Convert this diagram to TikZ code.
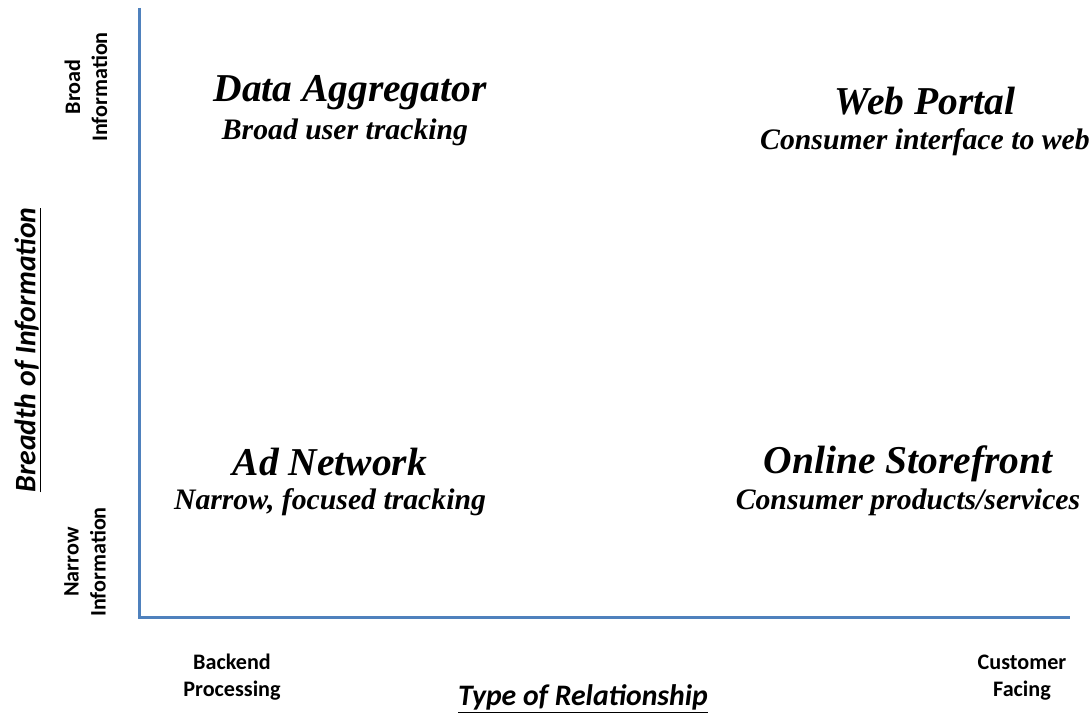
\documentclass[tikz,border=0pt]{standalone}
\usepackage{fontspec}
\setmainfont{Liberation Serif}
\newfontfamily\calibri{Carlito}
\usepackage{tikz}
\definecolor{axisblue}{RGB}{79,129,189}

\begin{document}
\begin{tikzpicture}[x=0.75pt,y=-0.75pt]
\tikzstyle{every node}+=[inner sep=0pt]
\tikzstyle{quadtitle}=[font=\fontsize{29.6}{32}\selectfont\bfseries\itshape]
\tikzstyle{quadnote}=[font=\fontsize{22.3}{26}\selectfont\bfseries\itshape]
\tikzstyle{endlabel}=[font=\calibri\fontsize{16.6}{20.3}\selectfont\bfseries, align=center]
\tikzstyle{axistitle}=[font=\calibri\fontsize{22.3}{26}\selectfont\bfseries\itshape]
\useasboundingbox (0,0) rectangle (1089,717);
% axes
\coordinate (top) at (139,8);
\coordinate (origin) at (139,617);
\coordinate (right) at (1070,617);
\draw [axisblue, line width=2.25pt] (top) -- (origin) -- (right);
% quadrants
\node [quadtitle] (aggr) at (350,93) {Data Aggregator};
\node [quadnote] (aggrnote) at (345,132) {Broad user tracking};
\node [quadtitle] (portal) at (925,101) {Web Portal};
\node [quadnote] (portalnote) at (925,142) {Consumer interface to web};
\node [quadtitle] (adnet) at (330,462) {Ad Network};
\node [quadnote] (adnetnote) at (330,502) {Narrow, focused tracking};
\node [quadtitle] (store) at (908,464) {Online Storefront};
\node [quadnote] (storenote) at (908,502) {Consumer products/services};
% axis ends
\node [endlabel, rotate=90] (broad) at (86,87) {Broad\\Information};
\node [endlabel, rotate=90] (narrow) at (85,562) {Narrow\\Information};
\node [endlabel] (backend) at (232,677) {Backend\\Processing};
\node [endlabel] (customer) at (1022,678) {Customer\\Facing};
% axis titles
\node [axistitle, rotate=90] (breadth) at (28,350) {\underline{Breadth of Information}};
\node [axistitle] (reltype) at (583,699) {\underline{Type of Relationship}};
\end{tikzpicture}
\end{document}
